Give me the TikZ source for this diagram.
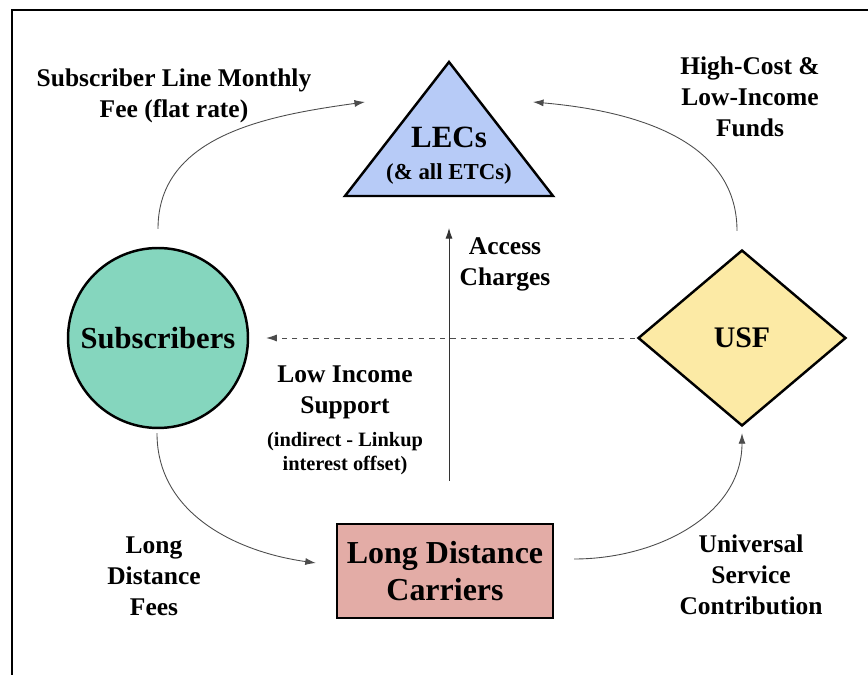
\documentclass[tikz,border=0pt]{standalone}
\usepackage{fontspec}
\setmainfont{Liberation Serif}
\usetikzlibrary{shapes.geometric, positioning, arrows.meta}
\definecolor{lecblue}{RGB}{183,203,247}
\definecolor{subgreen}{RGB}{133,214,190}
\definecolor{usfyellow}{RGB}{252,234,165}
\definecolor{ldcred}{RGB}{227,172,166}
\tikzset{
	party/.style={draw=black, line width=1.4pt, align=center, inner sep=0pt},
	flow/.style={draw=black!70, line width=0.5pt, -{Latex[length=6pt,width=4pt]}},
	lbl/.style={font=\fontsize{14.5}{17.6}\selectfont\bfseries, align=center},
	note/.style={font=\fontsize{11.6}{14}\selectfont\bfseries, align=center, inner sep=0pt},
}

\begin{document}
\begin{tikzpicture}[x=0.02cm, y=0.02cm]
					\useasboundingbox (0,0) rectangle (868,675);
					\draw[line width=1.1pt] (12,0) -- (12,665) -- (868,665);
					
					\filldraw[fill=lecblue, line width=1.4pt] (345,479) -- (449,613) -- (553,479) -- cycle;
					\node[align=center, font=\bfseries] (lec) at (449,519) {{\fontsize{17.6}{21}\selectfont LECs}\\[6pt]{\fontsize{13}{15}\selectfont (\& all ETCs)}};
					\node[party, circle, fill=subgreen, minimum size=3.6cm, font=\fontsize{17.4}{20}\selectfont\bfseries] (subs) at (158,337) {Subscribers};
					\node[party, diamond, fill=usfyellow, minimum width=4.16cm, minimum height=3.52cm, font=\fontsize{17}{20}\selectfont\bfseries] (usf) at (742,337) {USF};
					\node[party, rectangle, fill=ldcred, minimum width=4.32cm, minimum height=1.88cm, font=\fontsize{18.2}{21}\selectfont\bfseries] (ldc) at (445,104) {Long Distance\\Carriers};
					
					\node[lbl] (slmf) at (174,579) {Subscriber Line Monthly\\Fee (flat rate)};
					\node[lbl] (hclf) at (750,578) {High-Cost \&\\Low-Income\\Funds};
					\node[lbl] (acc) at (505,411) {Access\\Charges};
					\node[lbl] (lis) at (345,283) {Low Income\\Support};
					\node[note, below=4pt of lis] (lisnote) {(indirect - Linkup\\interest offset)};
					\node[lbl] (ldf) at (154,99) {Long\\Distance\\Fees};
					\node[lbl] (usc) at (751,100) {Universal\\Service\\Contribution};
					
					\draw[flow] ([yshift=18*0.02cm]subs.north) to[out=90, in=188] ([shift={(-84,54)}]lec.center);
					\draw[flow] ([shift={(-5,18)}]usf.north) to[out=90, in=-5] ([shift={(84,54)}]lec.center);
					\draw[flow] ([shift={(-1,-4)}]subs.south) to[out=-90, in=172] ([shift={(-20,8)}]ldc.west);
					\draw[flow] ([shift={(20,12)}]ldc.east) to[out=0, in=-90] ([yshift=-6*0.02cm]usf.south);
					\draw[flow, dashed] ([xshift=-2*0.02cm]usf.west) -- ([xshift=17*0.02cm]subs.east);
					\draw[flow, draw=black!80] ([shift={(4,42)}]ldc.north) -- ([shift={(0,-72)}]lec.center);
				\end{tikzpicture}
\end{document}
